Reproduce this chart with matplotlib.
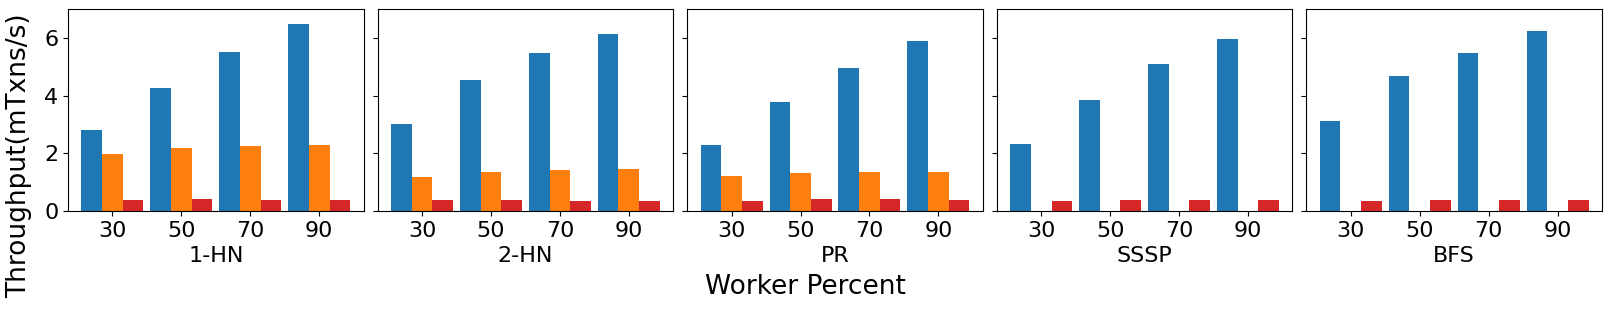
import matplotlib
matplotlib.use("Agg")
import matplotlib.pyplot as plt
import numpy as np

categories = ["30", "50", "70", "90"]
workloads = ["1-HN", "2-HN", "PR", "SSSP", "BFS"]

series_blue = {
    "1-HN": [2.82, 4.28, 5.53, 6.50],
    "2-HN": [3.02, 4.53, 5.50, 6.13],
    "PR":   [2.29, 3.79, 4.97, 5.91],
    "SSSP": [2.33, 3.86, 5.11, 5.98],
    "BFS":  [3.13, 4.69, 5.49, 6.26],
}
series_orange = {
    "1-HN": [1.98, 2.20, 2.24, 2.29],
    "2-HN": [1.18, 1.36, 1.43, 1.46],
    "PR":   [1.22, 1.32, 1.36, 1.36],
    "SSSP": [0.0, 0.0, 0.0, 0.0],
    "BFS":  [0.0, 0.0, 0.0, 0.0],
}
series_red = {
    "1-HN": [0.38, 0.42, 0.38, 0.38],
    "2-HN": [0.38, 0.38, 0.35, 0.35],
    "PR":   [0.35, 0.42, 0.42, 0.38],
    "SSSP": [0.35, 0.38, 0.38, 0.38],
    "BFS":  [0.35, 0.38, 0.38, 0.38],
}

fig, axes = plt.subplots(1, 5, figsize=(16.11, 3.11), dpi=100, sharey=True)
fig.subplots_adjust(left=0.0422, right=0.9944, top=0.970, bottom=0.3215, wspace=0.047)

x = np.arange(len(categories))
w = 0.3
for ax, name in zip(axes, workloads):
    ax.bar(x - w, series_blue[name], w, color="#1f77b4")
    ax.bar(x, series_orange[name], w, color="#ff7f0e")
    ax.bar(x + w, series_red[name], w, color="#d62728")
    ax.set_xticks(x)
    ax.set_xticklabels(categories, fontsize=16)
    ax.set_xlabel(name, fontsize=16)
    ax.tick_params(axis="y", labelsize=16)
    ax.set_ylim(0, 7)
    ax.set_yticks([0, 2, 4, 6])

fig.text(0.012, 0.5, "Throughput(mTxns/s)", rotation=90, va="center", ha="center", fontsize=19)
fig.text(0.5, 0.077, "Worker Percent", ha="center", va="center", fontsize=19)

fig.savefig("out.png", dpi=100)
